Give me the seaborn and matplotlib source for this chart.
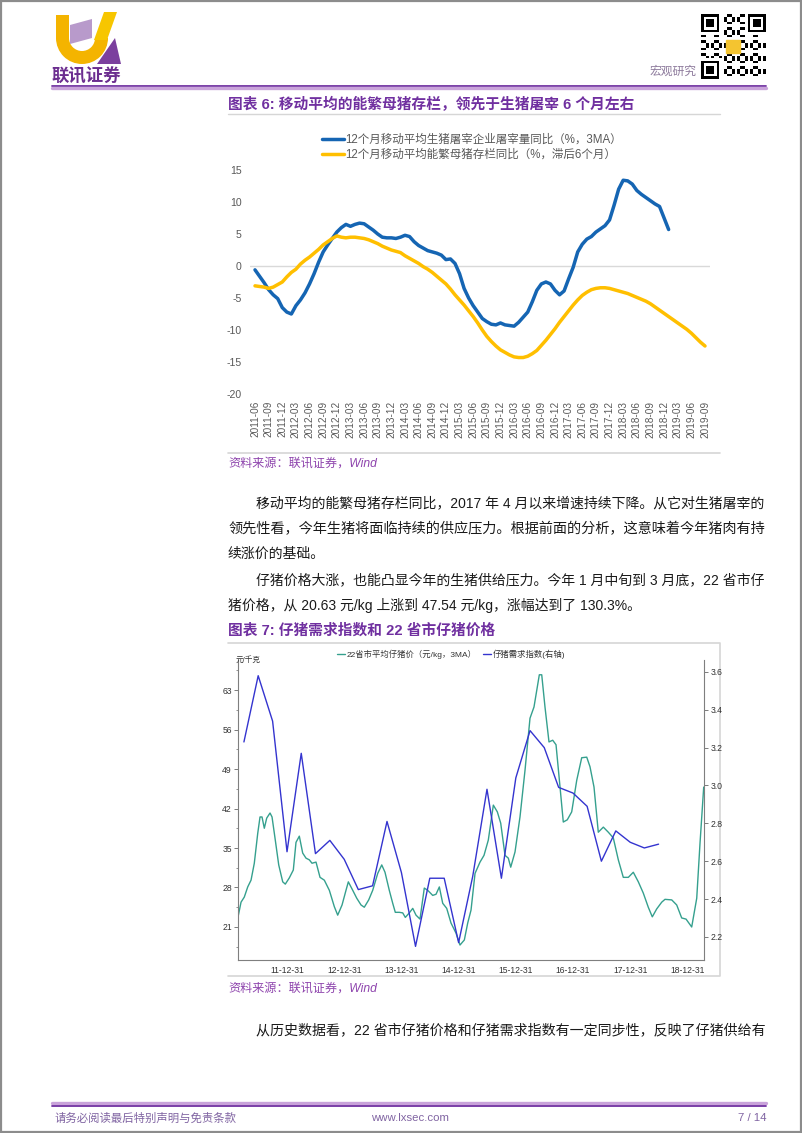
import numpy as np
import pandas as pd
import matplotlib
matplotlib.use("Agg")
import matplotlib.pyplot as plt
import seaborn as sns
from matplotlib.patches import Polygon, Rectangle, Wedge
from matplotlib.lines import Line2D
from matplotlib.ticker import FixedLocator

# ---------------- Chart 6 data (monthly, 2011-06 .. 2019-09) ----------------
c1_start = "2011-06"
c1_end = "2019-09"
c1_ticklabels = ["2011-06", "2011-09", "2011-12", "2012-03", "2012-06", "2012-09", "2012-12",
                 "2013-03", "2013-06", "2013-09", "2013-12", "2014-03", "2014-06", "2014-09",
                 "2014-12", "2015-03", "2015-06", "2015-09", "2015-12", "2016-03", "2016-06",
                 "2016-09", "2016-12", "2017-03", "2017-06", "2017-09", "2017-12", "2018-03",
                 "2018-06", "2018-09", "2018-12", "2019-03", "2019-06", "2019-09"]
slaughter_yoy = [-0.6, -1.6, -2.6, -3.7, -4.5, -5.1, -6.5, -7.2, -7.5, -6.2, -5.3, -4.2,
                 -2.8, -1.2, 0.6, 2.2, 3.3, 4.3, 5.3, 6.0, 6.5, 6.2, 6.5, 6.7,
                 6.6, 6.1, 5.6, 5.0, 4.5, 4.4, 4.4, 4.3, 4.5, 4.8, 4.6, 3.8,
                 3.2, 2.8, 2.4, 2.2, 2.0, 1.7, 1.0, 1.1, 0.4, -1.2, -3.5, -5.0,
                 -6.2, -7.2, -8.2, -8.7, -9.1, -9.2, -8.9, -9.2, -9.3, -9.4, -8.8, -8.0,
                 -7.2, -5.6, -3.8, -2.8, -2.5, -2.8, -3.8, -4.5, -3.9, -2.0, -0.2, 2.2,
                 3.4, 4.2, 4.6, 5.3, 5.8, 6.3, 7.2, 9.5, 12.0, 13.4, 13.3, 12.8,
                 11.8, 11.2, 10.7, 10.2, 9.7, 9.3, 7.5, 5.7]
sow_yoy_lag6 = [-3.1, -3.2, -3.3, -3.5, -3.3, -2.9, -2.5, -1.7, -1.0, -0.5, 0.3, 0.9,
                1.4, 2.0, 2.6, 3.3, 3.8, 4.3, 4.7, 4.5, 4.4, 4.5, 4.5, 4.4,
                4.3, 4.1, 3.8, 3.5, 3.1, 2.8, 2.5, 2.3, 2.1, 1.6, 1.2, 0.8,
                0.4, -0.1, -0.5, -1.0, -1.6, -2.2, -2.8, -3.6, -4.5, -5.3, -6.1, -7.0,
                -7.9, -8.9, -10.0, -11.0, -11.8, -12.5, -13.1, -13.5, -13.9, -14.2, -14.3, -14.3,
                -14.1, -13.7, -13.2, -12.4, -11.6, -10.7, -9.8, -8.8, -7.9, -7.0, -6.1, -5.3,
                -4.6, -4.1, -3.7, -3.5, -3.4, -3.4, -3.5, -3.7, -3.9, -4.1, -4.3, -4.6,
                -4.9, -5.2, -5.5, -5.9, -6.4, -6.9, -7.4, -7.9, -8.4, -8.9, -9.4, -9.9,
                -10.5, -11.2, -11.9, -12.5]
c1_names = ["12个月移动平均生猪屠宰企业屠宰量同比（%，3MA）",
            "12个月移动平均能繁母猪存栏同比（%，滞后6个月）"]

# ---------------- Chart 7 data ----------------
# 22省市平均仔猪价 (元/kg, 3MA); time as decimal year
piglet_time_yr = [2011.138, 2011.196, 2011.253, 2011.313, 2011.371, 2011.428, 2011.488, 2011.528,
                  2011.563, 2011.603, 2011.645, 2011.703, 2011.738, 2011.795, 2011.855, 2011.925,
                  2011.970, 2012.040, 2012.110, 2012.157, 2012.215, 2012.274, 2012.332, 2012.390,
                  2012.437, 2012.507, 2012.577, 2012.652, 2012.740, 2012.827, 2012.886, 2012.962,
                  2013.031, 2013.072, 2013.149, 2013.219, 2013.294, 2013.351, 2013.428, 2013.498,
                  2013.586, 2013.656, 2013.713, 2013.788, 2013.848, 2013.893, 2013.963, 2014.023,
                  2014.068, 2014.138, 2014.198, 2014.255, 2014.325, 2014.400, 2014.460, 2014.547,
                  2014.605, 2014.663, 2014.722, 2014.792, 2014.867, 2014.955, 2015.024, 2015.100,
                  2015.159, 2015.217, 2015.287, 2015.374, 2015.444, 2015.519, 2015.607, 2015.677,
                  2015.736, 2015.811, 2015.869, 2015.911, 2015.986, 2016.073, 2016.161, 2016.248,
                  2016.318, 2016.411, 2016.453, 2016.510, 2016.580, 2016.645, 2016.703, 2016.773,
                  2016.830, 2016.900, 2016.977, 2017.065, 2017.152, 2017.240, 2017.297, 2017.367,
                  2017.442, 2017.530, 2017.617, 2017.704, 2017.792, 2017.879, 2017.967, 2018.054,
                  2018.142, 2018.229, 2018.316, 2018.386, 2018.463, 2018.551, 2018.608, 2018.726,
                  2018.813, 2018.900, 2018.976, 2019.075, 2019.163, 2019.220, 2019.285]
piglet_price = [22.5, 25.4, 26.3, 28.1, 29.3, 32.3, 37.6, 40.5,
                40.5, 38.5, 40.3, 41.2, 40.5, 36.4, 32.0, 29.0,
                28.6, 29.7, 31.1, 36.0, 37.1, 34.1, 33.2, 32.9,
                32.3, 32.5, 29.8, 29.3, 27.5, 24.6, 23.1, 24.9,
                27.5, 29.0, 27.5, 26.1, 24.9, 24.5, 25.8, 27.5,
                30.5, 32.0, 30.7, 27.5, 25.2, 23.6, 23.6, 23.5,
                22.7, 23.5, 24.3, 23.1, 22.4, 27.9, 27.5, 26.6,
                26.8, 28.1, 25.2, 24.3, 21.7, 19.9, 17.8, 18.7,
                21.7, 24.0, 30.5, 32.5, 33.7, 36.4, 42.6, 41.4,
                39.4, 33.7, 33.2, 31.6, 34.3, 40.5, 48.8, 58.0,
                60.0, 65.7, 65.7, 60.0, 53.8, 54.1, 53.3, 45.8,
                39.6, 40.0, 41.4, 47.0, 51.0, 51.1, 49.4, 45.8,
                37.8, 38.7, 37.8, 36.8, 32.9, 29.8, 29.8, 30.7,
                29.0, 27.0, 24.5, 22.8, 24.2, 25.4, 25.9, 25.8,
                24.9, 22.6, 22.4, 21.0, 26.1, 35.8, 45.8]
# 仔猪需求指数 (quarterly, right axis)
demand_dates = ["2011-03-31", "2011-06-30", "2011-09-30", "2011-12-31", "2012-03-31", "2012-06-30",
                "2012-09-30", "2012-12-31", "2013-03-31", "2013-06-30", "2013-09-30", "2013-12-31",
                "2014-03-31", "2014-06-30", "2014-09-30", "2014-12-31", "2015-03-31", "2015-06-30",
                "2015-09-30", "2015-12-31", "2016-03-31", "2016-06-30", "2016-09-30", "2016-12-31",
                "2017-03-31", "2017-06-30", "2017-09-30", "2017-12-31", "2018-03-31", "2018-06-30"]
demand_index = [3.23, 3.58, 3.34, 2.65, 3.17, 2.64, 2.71, 2.61, 2.45, 2.47, 2.81, 2.54,
                2.15, 2.51, 2.51, 2.17, 2.52, 2.98, 2.51, 3.04, 3.29, 3.20, 2.99, 2.96,
                2.89, 2.60, 2.76, 2.70, 2.67, 2.69]
c2_tick_dates = ["2011-12-31", "2012-12-31", "2013-12-31", "2014-12-31",
                 "2015-12-31", "2016-12-31", "2017-12-31", "2018-12-31"]
c2_ticklabels = ["11-12-31", "12-12-31", "13-12-31", "14-12-31",
                 "15-12-31", "16-12-31", "17-12-31", "18-12-31"]
c2_left_ticks = [21, 28, 35, 42, 49, 56, 63]
c2_right_ticks = [2.2, 2.4, 2.6, 2.8, 3.0, 3.2, 3.4, 3.6]
c2_names = ["22省市平均仔猪价（元/kg，3MA）", "仔猪需求指数(右轴)"]

# ---------------- page texts ----------------
title6 = "图表 6: 移动平均的能繁母猪存栏，领先于生猪屠宰 6 个月左右"
title7 = "图表 7: 仔猪需求指数和 22 省市仔猪价格"
source_txt = "资料来源：联讯证券，Wind"
# (text, indented first line, justified to right margin, baseline-centre y)
para_lines = [
    ("移动平均的能繁母猪存栏同比，2017 年 4 月以来增速持续下降。从它对生猪屠宰的", True, True, 503),
    ("领先性看，今年生猪将面临持续的供应压力。根据前面的分析，这意味着今年猪肉有持", False, True, 529),
    ("续涨价的基础。", False, False, 554),
    ("仔猪价格大涨，也能凸显今年的生猪供给压力。今年 1 月中旬到 3 月底，22 省市仔", True, True, 580),
    ("猪价格，从 20.63 元/kg 上涨到 47.54 元/kg，涨幅达到了 130.3%。", False, False, 605),
    ("从历史数据看，22 省市仔猪价格和仔猪需求指数有一定同步性，反映了仔猪供给有", True, True, 1030),
]


def dec_year(s):
    d = pd.Timestamp(s)
    n = 366 if d.is_leap_year else 365
    return d.year + d.dayofyear / n


sns.set_theme(style="white")
FAM = ["Liberation Sans", "Noto Sans CJK SC", "DejaVu Sans"]
plt.rcParams["font.family"] = FAM
plt.rcParams["axes.unicode_minus"] = False

W, H = 802, 1133
fig = plt.figure(figsize=(W / 100, H / 100), dpi=100)
fig.patch.set_facecolor("white")
renderer = fig.canvas.get_renderer()

page = fig.add_axes([0, 0, 1, 1])
page.set_xlim(0, W)
page.set_ylim(H, 0)
page.axis("off")


def fa(l, t, r, b):
    return [l / W, 1 - b / H, (r - l) / W, (b - t) / H]


def ptext(x, y, s, size, color, ha="left", weight="normal", style="normal"):
    return page.text(x, y, s, fontsize=size, color=color, ha=ha, va="center",
                     fontweight=weight, fontstyle=style, family=FAM)


PURPLE = "#7030a0"
LILAC = "#c9a3da"

# page border
page.add_patch(Rectangle((0.8, 0.8), W - 1.6, H - 1.6, fill=False, ec="#8c8c8c", lw=1.6))

# logo
page.add_patch(Rectangle((56, 15), 13, 24, color="#f4b400", lw=0))
page.add_patch(Wedge((82, 38), 26, 0, 180, width=13, color="#f4b400", lw=0))
page.add_patch(Polygon([(94, 40), (107, 40), (117, 12), (104, 12)], closed=True, color="#f7c600", lw=0))
page.add_patch(Polygon([(70, 25), (92, 19), (92, 38), (70, 44)], closed=True, color="#b89acb", lw=0))
page.add_patch(Polygon([(97, 64), (121, 64), (115, 38)], closed=True, color="#7b3f9e", lw=0))
ptext(52, 76, "联讯证券", 12.5, "#6b2d8f", weight="bold")

# QR-like badge
n = 25
qr = np.zeros((n, n))
for i in range(n):
    for j in range(n):
        qr[i, j] = 1.0 if ((i * 7 + j * 11 + i * j) % 5) < 2 else 0.0
for (r, c) in [(0, 0), (0, n - 7), (n - 7, 0)]:
    r0, r1 = max(r - 1, 0), min(r + 8, n)
    c0, c1 = max(c - 1, 0), min(c + 8, n)
    qr[r0:r1, c0:c1] = 0
    qr[r:r + 7, c:c + 7] = 1
    qr[r + 1:r + 6, c + 1:c + 6] = 0
    qr[r + 2:r + 5, c + 2:c + 5] = 1
page.imshow(qr, cmap="Greys", extent=(701, 766, 79, 14), aspect="auto", interpolation="nearest", zorder=2)
page.add_patch(Rectangle((726, 40), 14, 13, color="#f4c430", zorder=3))
page.set_xlim(0, W)
page.set_ylim(H, 0)
ptext(697, 72, "宏观研究", 8.5, "#8d7a9c", ha="right")

# header lines
page.plot([52, 766], [85.5, 85.5], color=PURPLE, lw=1.3)
page.plot([52, 766], [88.3, 88.3], color=LILAC, lw=2.4)

# titles, rules, sources
ptext(228, 104, title6, 10.6, PURPLE, weight="bold")
page.plot([228, 720], [114, 114], color="#d6d6d6", lw=1)
page.plot([228, 720], [453, 453], color="#d6d6d6", lw=1.2)
ptext(228, 464, source_txt, 8.7, "#8e44ad", style="italic")
ptext(228, 630, title7, 10.6, PURPLE, weight="bold")
page.plot([228, 720, 720, 228], [643, 643, 976, 976], color="#d6d6d6", lw=1.2)
ptext(228, 989, source_txt, 8.7, "#8e44ad", style="italic")

# body paragraphs: justified lines are fitted to the right margin (x = 766)
BODY = 10.0
for s, indent, justify, y in para_lines:
    x0 = 256.5 if indent else 228
    t = ptext(x0, y, s, BODY, "#1a1a1a")
    if justify:
        w = t.get_window_extent(renderer=renderer).width
        t.set_fontsize(BODY * (766 - x0) / w)

# footer
page.plot([52, 766], [1102.5, 1102.5], color=LILAC, lw=2.4)
page.plot([52, 766], [1105.5, 1105.5], color=PURPLE, lw=1.3)
ptext(55, 1118, "请务必阅读最后特别声明与免责条款", 8.2, "#8064a2")
ptext(410, 1118, "www.lxsec.com", 8.2, "#8064a2", ha="center")
ptext(766, 1118, "7 / 14", 8.2, "#8064a2", ha="right")

# ---------------- Chart 6 ----------------
BLUE = "#1565b3"
GOLD = "#ffbf00"
ax1 = fig.add_axes(fa(250, 170, 710, 394))
ax1.patch.set_alpha(0)
months = pd.period_range(c1_start, c1_end, freq="M").astype(str)
df_a = pd.DataFrame({"pos": np.arange(len(slaughter_yoy)), "v": slaughter_yoy})
df_b = pd.DataFrame({"pos": np.arange(len(sow_yoy_lag6)), "v": sow_yoy_lag6})
ax1.axhline(0, color="#d9d9d9", lw=1.0, zorder=0)
sns.lineplot(data=df_a, x="pos", y="v", ax=ax1, color=BLUE, lw=2.5, zorder=3)
sns.lineplot(data=df_b, x="pos", y="v", ax=ax1, color=GOLD, lw=2.5, zorder=4)
ax1.set_xlim(-1.1, 100.1)
ax1.set_ylim(-20, 15)
ax1.set_yticks(range(-20, 16, 5))
tick_pos = [list(months).index(t) for t in c1_ticklabels]
ax1.set_xticks(tick_pos)
ax1.set_xticklabels(c1_ticklabels, rotation=90)
ax1.tick_params(axis="x", length=0, pad=5, labelsize=7.2, labelcolor="#595959")
ax1.tick_params(axis="y", length=0, pad=6, labelsize=7.6, labelcolor="#595959")
ax1.set_xlabel("")
ax1.set_ylabel("")
for sp in ax1.spines.values():
    sp.set_visible(False)
h1 = [Line2D([0], [0], color=BLUE, lw=2.5), Line2D([0], [0], color=GOLD, lw=2.5)]
leg1 = ax1.legend(h1, c1_names, loc="upper left", bbox_to_anchor=(322 / W, 1 - 134 / H),
                  bbox_transform=fig.transFigure, frameon=False, fontsize=8.3,
                  handlelength=1.9, handletextpad=0.15, labelspacing=0.25,
                  borderpad=0, borderaxespad=0)
for t in leg1.get_texts():
    t.set_color("#595959")

# ---------------- Chart 7 ----------------
TEAL = "#35a08e"
INDIGO = "#3434cf"
ax2 = fig.add_axes(fa(238, 660, 704, 960))
ax2.patch.set_alpha(0)
df_p = pd.DataFrame({"t": piglet_time_yr, "v": piglet_price})
df_d = pd.DataFrame({"t": [dec_year(d) for d in demand_dates], "v": demand_index})
sns.lineplot(data=df_p, x="t", y="v", ax=ax2, color=TEAL, lw=1.0)
ax2r = ax2.twinx()
sns.lineplot(data=df_d, x="t", y="v", ax=ax2r, color=INDIGO, lw=1.0)
ax2.set_xlim(2011.143, 2019.29)
ax2.set_ylim(15.15, 68.32)
ax2r.set_ylim(2.078, 3.663)
ax2.set_yticks(c2_left_ticks)
ax2.set_yticklabels([str(v) for v in c2_left_ticks])
ax2.yaxis.set_minor_locator(FixedLocator([v + 3.5 for v in c2_left_ticks] + [17.5]))
ax2r.set_yticks(c2_right_ticks)
ax2r.set_yticklabels([f"{v:.1f}" for v in c2_right_ticks])
xt = [dec_year(d) for d in c2_tick_dates]
ax2.set_xticks(xt)
ax2.set_xticklabels(c2_ticklabels)
ax2.xaxis.set_minor_locator(FixedLocator([v - 0.5 for v in xt] + [xt[-1] + 0.5]))
for a in (ax2, ax2r):
    a.set_xlabel("")
    a.set_ylabel("")
    a.tick_params(axis="both", which="major", labelsize=6.2, length=3, width=0.6,
                  color="#666666", labelcolor="#333333", pad=1.5)
    a.tick_params(axis="both", which="minor", length=1.8, width=0.5, color="#666666")
for k, sp in ax2.spines.items():
    sp.set_visible(k in ("left", "bottom"))
    sp.set_color("#7f7f7f")
    sp.set_linewidth(0.8)
for k, sp in ax2r.spines.items():
    sp.set_visible(k == "right")
    sp.set_color("#7f7f7f")
    sp.set_linewidth(0.8)
ax2.text(-0.005, 1.0, "元/千克", transform=ax2.transAxes, fontsize=5.5, color="#333333",
         ha="left", va="center")
h2 = [Line2D([0], [0], color=TEAL, lw=1.0), Line2D([0], [0], color=INDIGO, lw=1.0)]
leg2 = ax2r.legend(h2, c2_names, loc="center", bbox_to_anchor=(451 / W, 1 - 654 / H),
                   bbox_transform=fig.transFigure, frameon=False, ncol=2, fontsize=6,
                   handlelength=1.0, handletextpad=0.2, columnspacing=0.7,
                   borderpad=0, borderaxespad=0)
for t in leg2.get_texts():
    t.set_color("#333333")

fig.savefig("out.png", dpi=100, facecolor="white")
